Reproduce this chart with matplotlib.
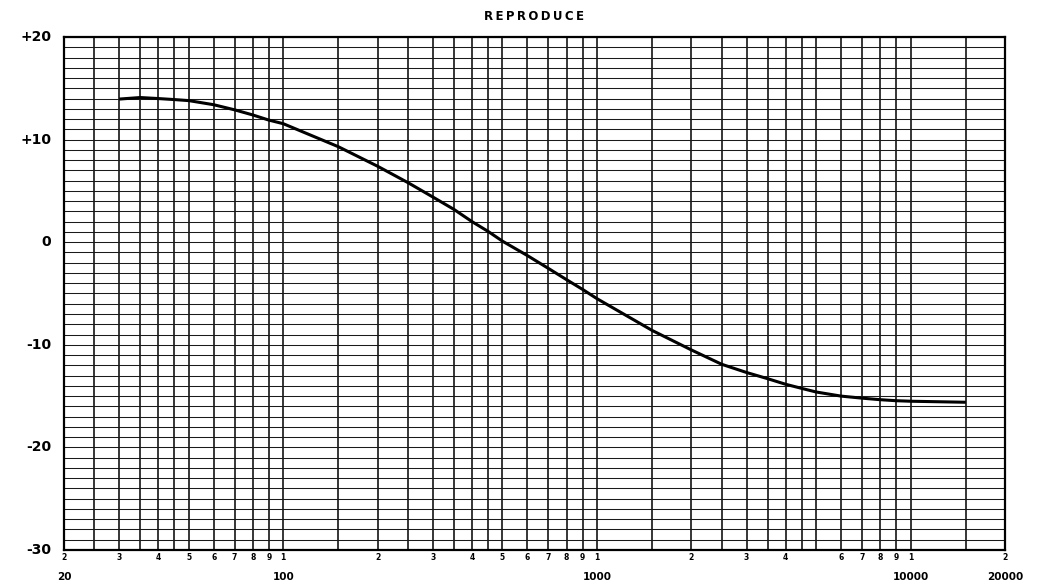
import matplotlib
matplotlib.use("Agg")
import matplotlib.pyplot as plt
import matplotlib.transforms as mtransforms

# --- data ---
freq_hz = [30, 35, 40, 45, 50, 60, 70, 80, 90, 100, 150, 200, 250, 300, 350,
           400, 450, 500, 600, 700, 800, 900, 1000, 1500, 2000, 2500, 3000,
           3500, 4000, 4500, 5000, 6000, 7000, 8000, 9000, 10000, 15000]
level_db = [13.95, 14.1, 14.0, 13.9, 13.8, 13.4, 12.9, 12.4, 11.9, 11.55, 9.3,
            7.4, 5.8, 4.4, 3.2, 2.0, 1.05, 0.1, -1.3, -2.55, -3.65, -4.6, -5.5,
            -8.6, -10.5, -11.9, -12.7, -13.3, -13.85, -14.25, -14.6, -15.0,
            -15.2, -15.35, -15.45, -15.5, -15.6]

grid_freqs = [20, 25, 30, 35, 40, 45, 50, 60, 70, 80, 90, 100, 150, 200, 250,
              300, 350, 400, 450, 500, 600, 700, 800, 900, 1000, 1500, 2000,
              2500, 3000, 3500, 4000, 4500, 5000, 6000, 7000, 8000, 9000,
              10000, 15000, 20000]
digit_freqs = [20, 30, 40, 50, 60, 70, 80, 90, 100, 200, 300, 400, 500, 600,
               700, 800, 900, 1000, 2000, 3000, 4000, 6000, 7000, 8000, 9000,
               10000, 20000]
digit_labels = ["2", "3", "4", "5", "6", "7", "8", "9", "1", "2", "3", "4", "5",
                "6", "7", "8", "9", "1", "2", "3", "4", "6", "7", "8", "9",
                "1", "2"]
decade_freqs = [20, 100, 1000, 10000, 20000]
decade_labels = ["20", "100", "1000", "10000", "20000"]
y_label_vals = [20, 10, 0, -10, -20, -30]
y_label_text = ["+20", "+10", "0", "-10", "-20", "-30"]
title_text = "REPRODUCE"

fig = plt.figure(figsize=(10.49, 5.87), dpi=100)
W, H = 1049, 587
ax = fig.add_axes([64 / W, 1 - 550 / H, (1005 - 64) / W, (550 - 37) / H])
ax.set_xscale("log")
ax.set_xlim(20, 20000)
ax.set_ylim(-30, 20)

# grid
for f in grid_freqs:
    ax.axvline(f, color="black", lw=1.1, zorder=1)
for v in range(-30, 21):
    ax.axhline(v, color="#1a1a1a", lw=0.75, zorder=1)

ax.plot(freq_hz, level_db, color="black", lw=2.2, zorder=3,
        solid_capstyle="butt", solid_joinstyle="round")

for s in ax.spines.values():
    s.set_linewidth(1.6)
    s.set_color("black")

ax.set_xticks([])
ax.set_xticks([], minor=True)
ax.set_yticks([])
ax.set_yticks([], minor=True)

# x digit labels
trans = mtransforms.blended_transform_factory(ax.transData, fig.transFigure)
for f, t in zip(digit_freqs, digit_labels):
    ax.text(f, 1 - 557 / H, t, transform=trans, ha="center", va="center",
            fontsize=5.5, fontweight="bold", family="DejaVu Sans")
for f, t in zip(decade_freqs, decade_labels):
    ax.text(f, 1 - 577 / H, t, transform=trans, ha="center", va="center",
            fontsize=7.5, fontweight="bold", family="DejaVu Sans")

# y labels
transy = mtransforms.blended_transform_factory(fig.transFigure, ax.transData)
for v, t in zip(y_label_vals, y_label_text):
    ax.text(51 / W, v, t, transform=transy, ha="right", va="center",
            fontsize=10, fontweight="bold", family="DejaVu Sans")

fig.text(534 / W, 1 - 17 / H, "\u2009".join(title_text), ha="center",
         va="center", fontsize=8.5, fontweight="bold", family="DejaVu Sans")

fig.savefig("out.png", dpi=100, facecolor="white")
